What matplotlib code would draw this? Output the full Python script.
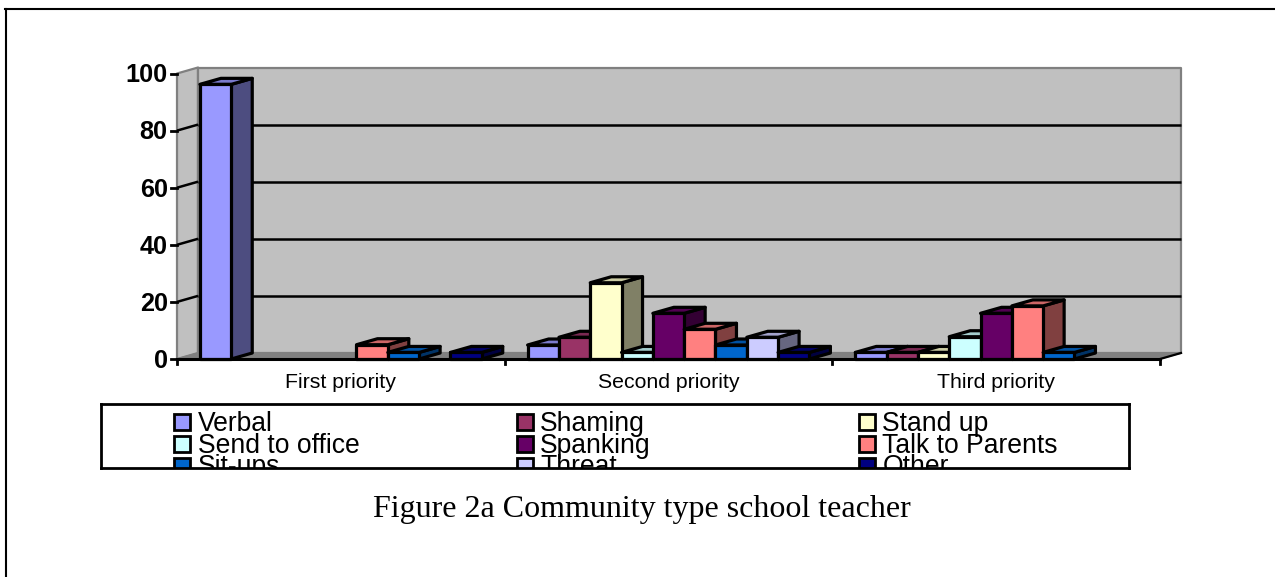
import matplotlib
matplotlib.use('Agg')
import matplotlib.pyplot as plt
from matplotlib.patches import Polygon, Rectangle

plt.rcParams['font.family'] = ['Liberation Sans', 'DejaVu Sans']

categories = ['First priority', 'Second priority', 'Third priority']
series = ['Verbal', 'Shaming', 'Stand up', 'Send to office', 'Spanking',
          'Talk to Parents', 'Sit-ups', 'Threat', 'Other']

verbal = [96.2, 4.9, 2.3]
shaming = [0, 7.6, 2.3]
stand_up = [0, 26.7, 2.3]
send_to_office = [0, 2.3, 7.8]
spanking = [0, 16, 16]
talk_to_parents = [5, 10.4, 18.6]
sit_ups = [2.3, 4.9, 2.3]
threat = [0, 7.6, 0]
other = [2.3, 2.3, 0]
values = [verbal, shaming, stand_up, send_to_office, spanking,
          talk_to_parents, sit_ups, threat, other]

yticks = [0, 20, 40, 60, 80, 100]

# front, top, side colours of each series
front = ['#9999FF', '#993366', '#FFFFCC', '#CCFFFF', '#660066',
         '#FF8080', '#0066CC', '#CCCCFF', '#000080']
top = ['#7A7ACC', '#7A2952', '#CCCCA3', '#A3CCCC', '#520052',
       '#CC6666', '#0052A3', '#A3A3CC', '#000066']
side = ['#4D4D80', '#4D1A33', '#808066', '#668080', '#330033',
        '#804040', '#003366', '#666680', '#000040']

W, H = 1275, 577
fig = plt.figure(figsize=(W / 100, H / 100), dpi=100, facecolor='white')


def frame_axes(left, top_px, right, bottom):
    return fig.add_axes([left / W, 1 - bottom / H, (right - left) / W, (bottom - top_px) / H])


# the front edge of the chart box
ax = frame_axes(177, 73.5, 1160, 359)
ax.set_xlim(0, 3)
ax.set_ylim(0, 100)
ax.axis('off')

dx = 21 / (983 / 3)   # depth in category units
dy = 6 / 2.855        # depth in value units
lw = 2.3
n = len(series)
gap = 0.07
bw = (1 - 2 * gap) / n


def poly(pts, fc, ec='black', lw=lw, z=3):
    ax.add_patch(Polygon(pts, closed=True, facecolor=fc, edgecolor=ec,
                         linewidth=lw, joinstyle='round', zorder=z, clip_on=False))


# walls and floor
poly([(0, 0), (dx, dy), (dx, 100 + dy), (0, 100)], '#C0C0C0', '#808080', 1.6, 1)
poly([(dx, dy), (3 + dx, dy), (3 + dx, 100 + dy), (dx, 100 + dy)], '#C0C0C0', '#808080', 1.6, 1)
poly([(0, 0), (3, 0), (3 + dx, dy), (dx, dy)], '#808080', '#808080', 1, 1)

for t in yticks[1:-1]:
    ax.plot([dx, 3 + dx], [t + dy, t + dy], color='black', lw=1.8, zorder=2,
            solid_capstyle='butt', clip_on=False)
    ax.plot([0, dx], [t, t + dy], color='black', lw=1.8, zorder=2,
            solid_capstyle='butt', clip_on=False)

# bars, drawn left to right so that each one covers the side of the last
for c in range(len(categories)):
    for s in range(n):
        v = values[s][c]
        if v <= 0:
            continue
        x0 = c + gap + s * bw
        x1 = x0 + bw
        poly([(x1, 0), (x1 + dx, dy), (x1 + dx, v + dy), (x1, v)], side[s])
        poly([(x0, v), (x0 + dx, v + dy), (x1 + dx, v + dy), (x1, v)], top[s])
        poly([(x0, 0), (x1, 0), (x1, v), (x0, v)], front[s])

# axis lines and ticks
ax.plot([0, 3], [0, 0], color='black', lw=2.2, zorder=6, clip_on=False)
ax.plot([3, 3 + dx], [0, dy], color='black', lw=1.6, zorder=2, clip_on=False)
ax.plot([0, 0], [0, -1.6], color='black', lw=2, zorder=6, clip_on=False)
for t in yticks:
    ax.plot([-0.018, 0], [t, t], color='black', lw=2, zorder=6, clip_on=False)
    ax.text(-0.0285, t - 3.1, str(t), ha='right', va='baseline', fontsize=18.2,
            fontweight='bold', color='black', clip_on=False)
for i in range(1, 4):
    ax.plot([i, i], [0, -1.6], color='black', lw=2, zorder=6, clip_on=False)
for i, name in enumerate(categories):
    ax.text(i + 0.5, -10.2, name, ha='center', va='baseline', fontsize=15.3, color='black')

# legend box, too short for its third row
lax = frame_axes(101, 403.7, 1129, 467.7)
lax.set_xlim(101, 1129)
lax.set_ylim(467.7, 403.7)
lax.set_xticks([])
lax.set_yticks([])
for sp in lax.spines.values():
    sp.set_linewidth(2.0)
    sp.set_zorder(10)

col_x = [174, 516.5, 859]
swatch_y = [421.5, 443.7, 466]
text_y = [431, 452.7, 474.4]
for s, name in enumerate(series):
    r, col = divmod(s, 3)
    lax.add_patch(Rectangle((col_x[col], swatch_y[r] - 8), 16, 16, facecolor=front[s],
                            edgecolor='black', linewidth=2.0))
    lax.text(col_x[col] + 23.5, text_y[r], name, ha='left', va='baseline', fontsize=19.1,
             color='black', clip_on=True)

fig.text(642 / W, 1 - 509 / H, 'Figure 2a Community type school teacher', ha='center', va='center',
         fontsize=23, family=['Liberation Serif'], color='black')

# page border
fig.add_artist(plt.Line2D([6 / W, 6 / W], [0, 1 - 9 / H], color='black', lw=1.5))
fig.add_artist(plt.Line2D([5.3 / W, 1], [1 - 9 / H, 1 - 9 / H], color='black', lw=1.5))

fig.savefig('out.png', dpi=100)
